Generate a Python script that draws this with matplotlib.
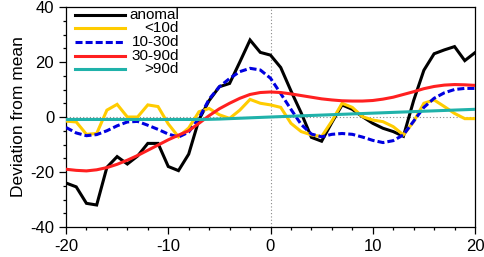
import matplotlib
matplotlib.use("Agg")
import matplotlib.pyplot as plt
from matplotlib.ticker import MultipleLocator
import numpy as np

plt.rcParams['font.family'] = ['Liberation Sans', 'DejaVu Sans']

days = list(range(-20, 21))

anomal = [-24, -25.4, -31.4, -32, -18.3, -14.4, -17.1, -14.2, -9.6, -9.6,
          -18, -19.5, -13.5, -1, 6, 11, 12.2, 20, 28, 23.5,
          22.5, 18, 9.5, 1.5, -7.4, -8.8, -2, 4.4, 2.8, 0.1,
          -2.3, -4.1, -5.3, -7.0, 6, 17, 23, 24.4, 25.6, 20.5, 23.4]

lt10 = [-1.5, -1.8, -6.3, -6.0, 2.5, 4.6, 0, 0, 4.4, 3.8,
        -2.5, -7.2, -4, 1.9, 3.1, 0.8, -0.5, 2.5, 6.4, 5,
        4.4, 3.5, -2.3, -5.3, -6.5, -7.1, -1.5, 5, 3.5, 0.1,
        -1.1, -1.7, -3.5, -6.5, -1.7, 5, 6.2, 3.8, 1.3, -0.6, -0.6]

d10_30 = [-3.8, -5.8, -6.8, -6.4, -5.0, -3.2, -1.8, -1.6, -3.0, -4.5,
          -6.2, -7.3, -5.5, -0.5, 6.5, 11, 14, 16.5, 17.7, 17.1,
          14.1, 8.5, 2.8, -2.7, -6.2, -7.2, -6.3, -6.0, -6.3, -7.3,
          -8.5, -9.3, -8.6, -6.5, -1.5, 3.5, 6.8, 8.8, 10, 10.4, 10.4]

d30_90 = [-19, -19.4, -19.6, -19.2, -18.4, -17.2, -15.7, -14, -12.1, -10.2,
          -8.3, -6.6, -5.0, -2.3, 0.5, 3.0, 5.0, 6.8, 8.2, 8.9,
          9.1, 8.9, 8.4, 7.8, 7.2, 6.6, 6.2, 5.9, 5.8, 5.8,
          6.0, 6.5, 7.2, 8.2, 9.2, 10.3, 11.1, 11.6, 11.8, 11.7, 11.5]

gt90 = [-0.9, -0.9, -0.9, -0.9, -0.9, -0.9, -0.9, -0.9, -0.9, -0.9,
        -0.9, -0.9, -0.9, -0.9, -0.85, -0.75, -0.6, -0.45, -0.3, -0.15,
        0, 0.14, 0.28, 0.42, 0.56, 0.7, 0.84, 0.98, 1.12, 1.26,
        1.4, 1.54, 1.68, 1.82, 1.96, 2.1, 2.24, 2.38, 2.52, 2.66, 2.8]

labels = ['anomal', '<10d', '10-30d', '30-90d', '>90d']
colors = ['black', '#FFCC00', '#0000E0', '#FF2020', '#20B2AA']

fig = plt.figure(figsize=(4.84, 2.57), dpi=100)
ax = fig.add_axes([66/484, 1-227/257, 409/484, 220/257])

ax.axhline(0, color='#888888', linestyle=(0, (1, 2)), linewidth=0.8, zorder=1)
ax.axvline(0, color='#888888', linestyle=(0, (1, 2)), linewidth=0.8, zorder=1)

series = [anomal, lt10, d10_30, d30_90, gt90]
lw = 2.2
for s, c, lab in zip(series, colors, labels):
    if lab == '10-30d':
        ax.plot(days, s, color=c, lw=lw, dashes=(2.3, 1.0), dash_capstyle='butt', zorder=3)
    else:
        ax.plot(days, s, color=c, lw=lw, zorder=3, solid_joinstyle='miter')

ax.set_xlim(-20, 20)
ax.set_ylim(-40, 40)
ax.xaxis.set_major_locator(MultipleLocator(10))
ax.xaxis.set_minor_locator(MultipleLocator(2))
ax.yaxis.set_major_locator(MultipleLocator(20))
ax.yaxis.set_minor_locator(MultipleLocator(5))
ax.tick_params(which='both', direction='out', top=False, right=False, labelsize=12, width=0.9)
ax.tick_params(which='major', length=5)
ax.tick_params(which='minor', length=2.5)
ax.set_xticks([-20, -10, 0, 10, 20])
ax.set_xticklabels(['-20', '-10', '0', '10', '20'])
ax.set_yticks([-40, -20, 0, 20, 40])
ax.set_yticklabels(['-40', '-20', '0', '20', '40'])
for sp in ax.spines.values():
    sp.set_linewidth(0.9)
ax.set_ylabel('Deviation from mean', fontsize=12.5, labelpad=3)

# manual NCL-style legend
ly = [0.9636, 0.9023, 0.841, 0.7795, 0.718]
for lab, c, y in zip(labels, colors, ly):
    if lab == '10-30d':
        ax.plot([0.022, 0.144], [y, y], transform=ax.transAxes, color=c, lw=lw,
                dashes=(2.3, 1.0), dash_capstyle='butt', zorder=4)
    else:
        ax.plot([0.022, 0.144], [y, y], transform=ax.transAxes, color=c, lw=lw, zorder=4)
    ax.text(0.276, y, lab, transform=ax.transAxes, ha='right', va='center',
            fontsize=11, zorder=5)

fig.savefig('out.png', dpi=100)
